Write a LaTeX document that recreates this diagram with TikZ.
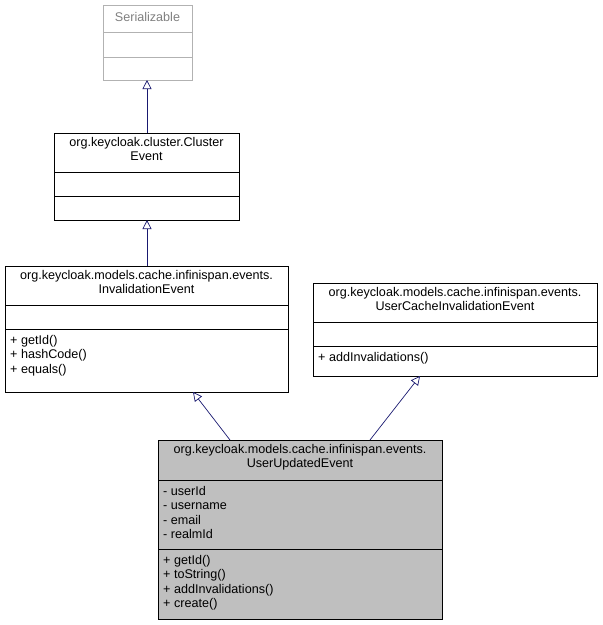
\documentclass[tikz,border=0pt]{standalone}
\usepackage{fontspec}
\setmainfont{Liberation Sans}
\usetikzlibrary{arrows.meta}
\begin{document}
\begin{tikzpicture}[x=1pt,y=-1pt,
  box/.style={draw=black,line width=0.7pt},
  gbox/.style={draw=gray!60,line width=0.7pt},
  fnt/.style={font=\fontsize{12.6}{14.5}\selectfont},
  txt/.style={fnt,inner sep=0pt,align=left,anchor=north west},
  ctxt/.style={fnt,inner sep=0pt,align=center,anchor=north},
  inh/.style={draw={rgb,255:red,25;green,25;blue,112},line width=0.7pt,-{Triangle[open,length=9pt,width=9pt,fill=white]}}]
\useasboundingbox (0,0) rectangle (603,625);
% Serializable
\draw[gbox] (103,5) rectangle (192,80);
\draw[gbox] (103,32) -- (192,32); \draw[gbox] (103,57) -- (192,57);
\node[ctxt,text=gray] at (147.5,12) {Serializable};
\coordinate (serB) at (147,80);
% ClusterEvent
\draw[box] (54,133) rectangle (239,220);
\draw[box] (54,172) -- (239,172); \draw[box] (54,196) -- (239,196);
\node[ctxt] at (146.5,137) {org.keycloak.cluster.Cluster\\Event};
\coordinate (clT) at (147,133); \coordinate (clB) at (147,220);
% InvalidationEvent
\draw[box] (5,266) rectangle (288,392);
\draw[box] (5,305) -- (288,305); \draw[box] (5,329) -- (288,329);
\node[ctxt] at (146.5,270) {org.keycloak.models.cache.infinispan.events.\\InvalidationEvent};
\node[txt] at (10,335) {+ getId()\\+ hashCode()\\+ equals()};
\coordinate (invT) at (147,266); \coordinate (invB) at (193,392);
% UserCacheInvalidationEvent
\draw[box] (313,283) rectangle (597,376);
\draw[box] (313,322) -- (597,322); \draw[box] (313,346) -- (597,346);
\node[ctxt] at (455,287) {org.keycloak.models.cache.infinispan.events.\\UserCacheInvalidationEvent};
\node[txt] at (318,352) {+ addInvalidations()};
\coordinate (ucB) at (420,376);
% UserUpdatedEvent
\draw[box,fill={rgb,255:red,191;green,191;blue,191}] (158,440) rectangle (442,619);
\draw[box] (158,480) -- (442,480); \draw[box] (158,549) -- (442,549);
\node[ctxt] at (300,444) {org.keycloak.models.cache.infinispan.events.\\UserUpdatedEvent};
\node[txt] at (163,486) {- userId\\- username\\- email\\- realmId};
\node[txt] at (163,555) {+ getId()\\+ toString()\\+ addInvalidations()\\+ create()};
\coordinate (uuA) at (230,440); \coordinate (uuB) at (370,440);
\draw[inh] (clT) -- (serB);
\draw[inh] (invT) -- (clB);
\draw[inh] (uuA) -- (invB);
\draw[inh] (uuB) -- (ucB);
\end{tikzpicture}
\end{document}
